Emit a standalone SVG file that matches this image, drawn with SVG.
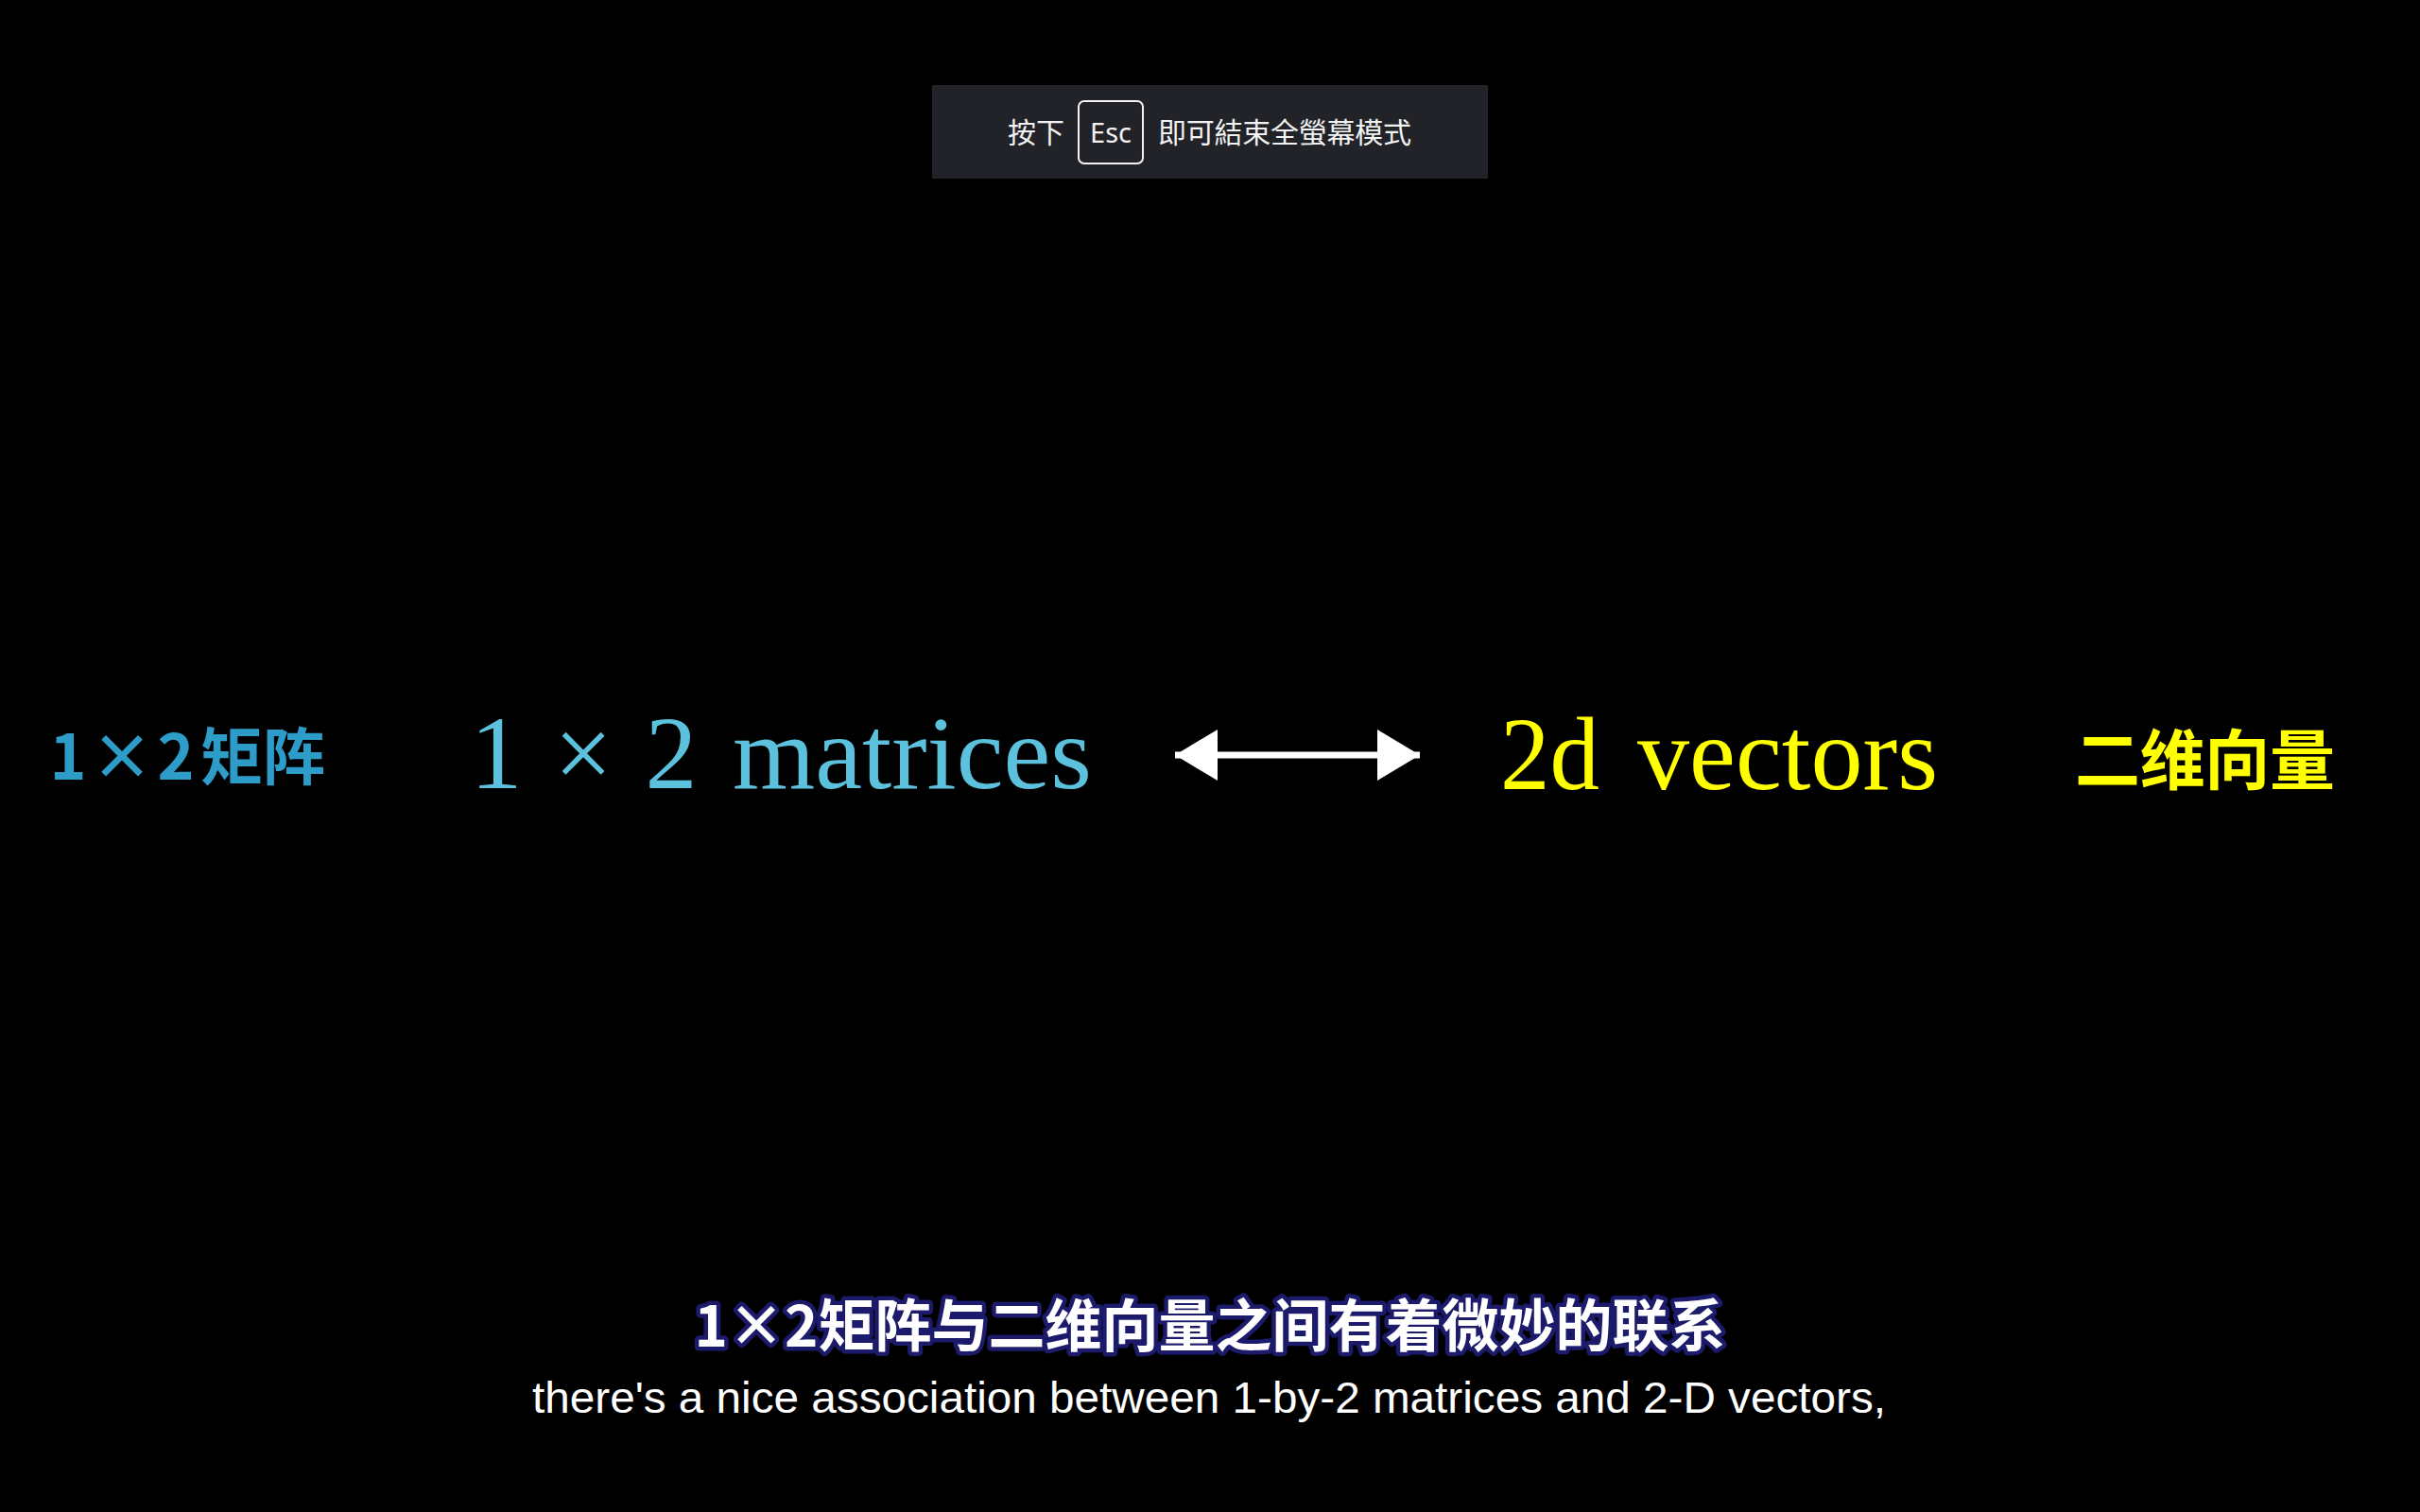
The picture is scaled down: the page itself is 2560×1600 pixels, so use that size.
<svg xmlns="http://www.w3.org/2000/svg" width="2560" height="1600" viewBox="0 0 2560 1600">
<defs>
<style>
.cjk{font-family:"Noto Sans CJK SC","Noto Sans CJK TC",sans-serif;}
.tex{font-family:"Liberation Serif","DejaVu Serif",serif;font-size:110px;}
.blue{fill:#5cc1dc;}
.yellow{fill:#ffff00;}
</style>
<marker id="ah" markerWidth="46" markerHeight="54" refX="45" refY="27" markerUnits="userSpaceOnUse" orient="auto-start-reverse">
<path d="M0,0 L45,27 L0,54 Z" fill="#ffffff"/>
</marker>
</defs>
<rect width="2560" height="1600" fill="#000000"/>

<g id="esc-bar">
<rect x="986" y="90" width="588" height="99" fill="#212328"/>
<text x="1066" y="151" class="cjk" font-size="30" fill="#f2f2f2">按下</text>
<rect x="1141" y="107" width="68" height="66" rx="6" fill="none" stroke="#f2f2f2" stroke-width="2"/>
<text x="1175" y="151" font-family="Noto Sans, sans-serif" font-size="29" fill="#f2f2f2" text-anchor="middle">Esc</text>
<text x="1225" y="151" class="cjk" font-size="30" fill="#f2f2f2" textLength="268">即可結束全螢幕模式</text>
</g>

<g id="label-matrix-cn">
<text y="825" class="cjk" font-size="66" font-weight="bold" fill="#2e9cc9"><tspan x="72" text-anchor="middle">1</tspan><tspan x="129" text-anchor="middle">×</tspan><tspan x="186" text-anchor="middle">2</tspan><tspan x="212">矩阵</tspan></text>
</g>

<g id="node-matrices">
<text x="525" y="834" class="tex blue" text-anchor="middle">1</text>
<text x="617" y="834" class="tex blue" text-anchor="middle">×</text>
<text x="710" y="834" class="tex blue" text-anchor="middle">2</text>
<text x="775" y="834" class="tex blue" textLength="380" lengthAdjust="spacingAndGlyphs">matrices</text>
</g>

<g id="connectors">
<line x1="1243" y1="799" x2="1502" y2="799" stroke="#ffffff" stroke-width="7" marker-start="url(#ah)" marker-end="url(#ah)"/>
</g>

<g id="node-vectors">
<text x="1587" y="835" class="tex yellow" textLength="105" lengthAdjust="spacingAndGlyphs">2d</text>
<text x="1732" y="835" class="tex yellow" textLength="318" lengthAdjust="spacingAndGlyphs">vectors</text>
</g>

<g id="label-vectors-cn">
<text x="2195" y="830" class="cjk yellow" font-size="69" font-weight="bold" textLength="275">二维向量</text>
</g>

<g id="subtitle">
<text x="1280" y="1425" class="cjk" font-size="60" font-weight="bold" fill="#ffffff" stroke="#1c1a6a" stroke-width="9" stroke-linejoin="round" paint-order="stroke" text-anchor="middle">1×2矩阵与二维向量之间有着微妙的联系</text>
<text x="563" y="1495" font-family="Liberation Sans, Arial, sans-serif" font-size="46" fill="#ffffff" textLength="1432" lengthAdjust="spacingAndGlyphs">there's a nice association between 1-by-2 matrices and 2-D vectors,</text>
</g>
</svg>
